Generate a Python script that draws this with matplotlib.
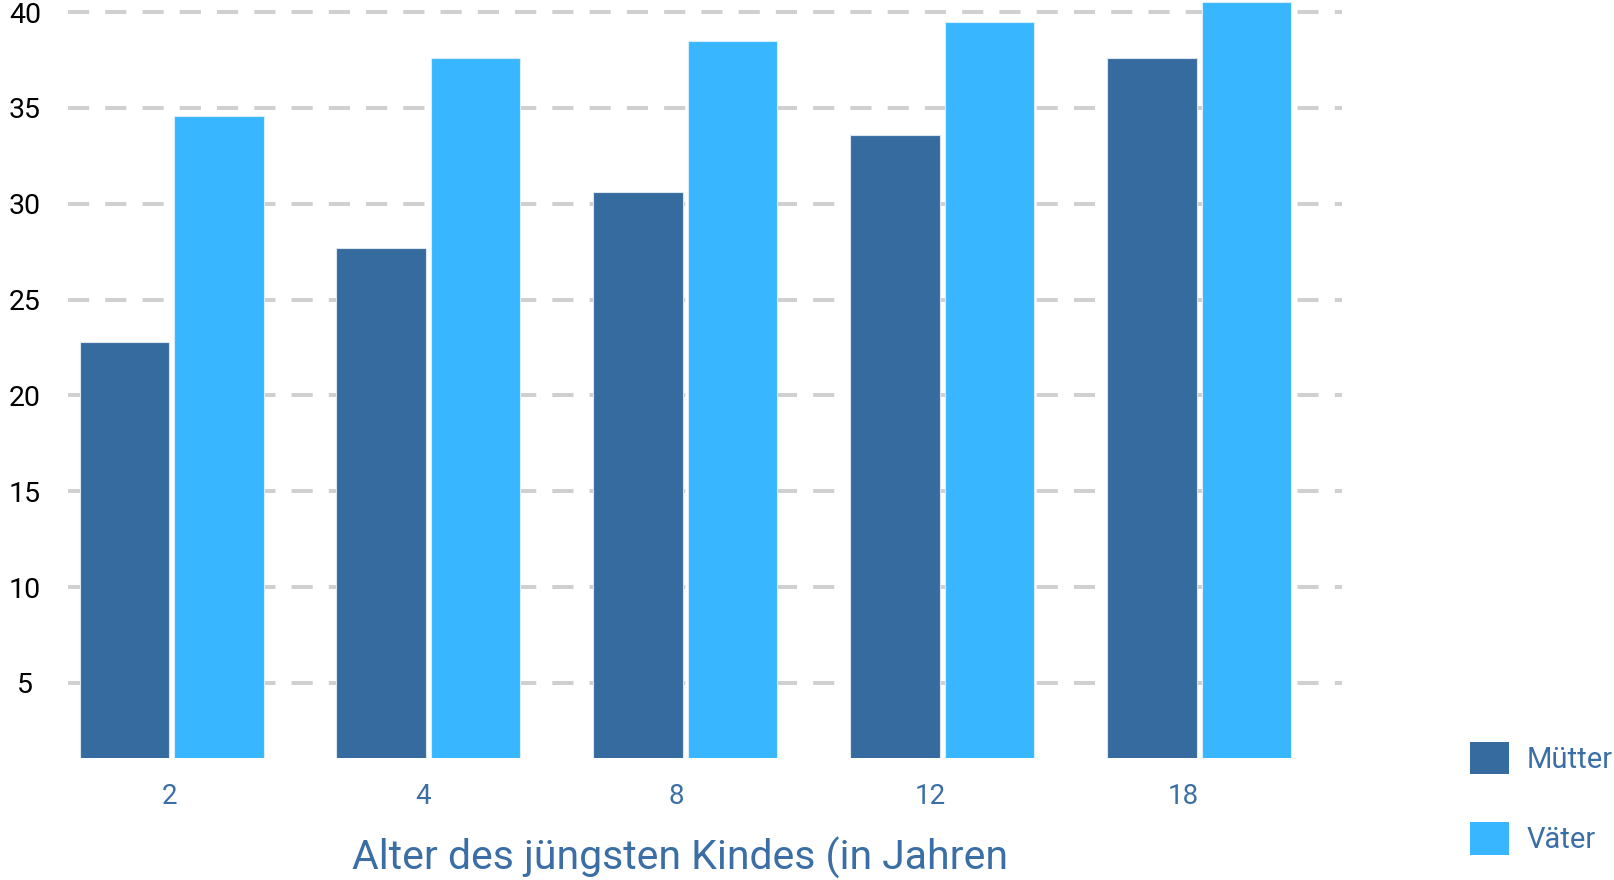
import numpy as np
import matplotlib
matplotlib.use("Agg")
import matplotlib.pyplot as plt
from matplotlib.patches import Patch

plt.rcParams['font.family'] = ['Roboto', 'DejaVu Sans']

# data
ages = ['2', '4', '8', '12', '18']
muetter = [22.8, 27.7, 30.6, 33.6, 37.6]
vaeter = [34.6, 37.6, 38.5, 39.5, 40.5]
yticks = [5, 10, 15, 20, 25, 30, 35, 40]

c_m = '#366ba0'
c_v = '#38b6ff'
c_txt = '#3a6ea5'

fig = plt.figure(figsize=(16.15, 8.8), dpi=100)
ax = fig.add_axes([68 / 1615, 1 - 758 / 880, (1342 - 68) / 1615, 758 / 880])

x = np.arange(len(ages))
w = 0.348
off = 0.184
ax.bar(x - off, muetter, w, color=c_m, edgecolor='#dce6ef', linewidth=0.8, zorder=3)
ax.bar(x + off, vaeter, w, color=c_v, edgecolor='#d6eefc', linewidth=0.8, zorder=3)

ax.set_xlim(-0.403, 4.556)
ax.set_ylim(1.08, 40.63)

ax.set_yticks(yticks)
ax.set_yticklabels([str(t) for t in yticks], fontsize=20.5, color='black', ha='center')
ax.tick_params(axis='y', length=0, pad=31)

# tick labels sit slightly left of the bar groups in the original
ax.set_xticks(x * 0.987 - 0.008)
ax.set_xticklabels(ages, fontsize=20, color=c_txt)
ax.tick_params(axis='x', length=0, pad=18)

ax.grid(axis='y', color='#d0d0d0', linewidth=2.9, linestyle=(0, (5.25, 4)), zorder=0)
ax.grid(axis='x', visible=False)
ax.set_axisbelow(True)
for s in ax.spines.values():
    s.set_visible(False)

fig.text(680 / 1615, 10 / 880, 'Alter des jüngsten Kindes (in Jahren', fontsize=29.5,
         color=c_txt, ha='center', va='baseline')

handles = [Patch(facecolor=c_m, label='Mütter'), Patch(facecolor=c_v, label='Väter')]
fig.legend(handles=handles, loc='upper left', bbox_to_anchor=(1470 / 1615, 1 - 742 / 880),
           frameon=False, fontsize=21, labelcolor=c_txt, handlelength=1.33, handleheight=1.33,
           labelspacing=1.65, handletextpad=0.6, borderpad=0, borderaxespad=0)

fig.savefig('out.png', dpi=100)
